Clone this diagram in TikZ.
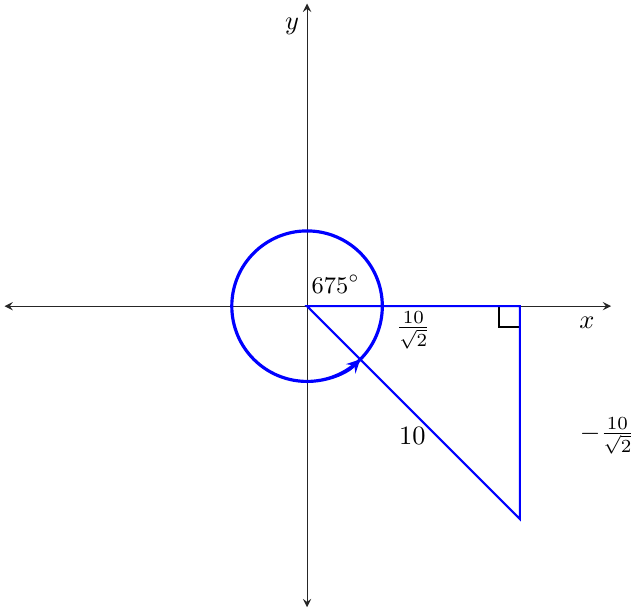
\documentclass[tikz,border=0pt]{standalone}
\usetikzlibrary{arrows,calc}
\begin{document}
\begin{tikzpicture}[
    x=0.4cm, y=0.4cm,
    axis/.style={<->, >=stealth, thin, black!85},
    side/.style={blue, thick},
    turn/.style={blue, very thick, ->, >=stealth},
    lbl/.style={inner sep=1pt}
]
    \useasboundingbox (-10.2,-10.03) rectangle (10.86,10.17);
    % Axes
    \coordinate (xl) at (-10.05,0);
    \coordinate (xr) at (10.1,0);
    \coordinate (yb) at (0,-10);
    \coordinate (yt) at (0,10.05);
    \draw[axis] (xl) -- (xr);
    \draw[axis] (yb) -- (yt);
    \node[lbl] (xlab) at (9.3,-0.55) {$x$};
    \node[lbl] (ylab) at (-0.5,9.3) {$y$};

    % Triangle
    \coordinate (O) at (0,0);
    \coordinate (A) at ({10/sqrt(2)},0);
    \coordinate (B) at ({10/sqrt(2)},{-10/sqrt(2)});
    \draw[semithick] ($(A)+(-0.7,0)$) -- ++(0,-0.7) -- ++(0.7,0);
    \draw[side] (O) -- (A) -- (B) -- cycle;

    % Rotation
    \draw[turn] (2.5,0) arc[start angle=0, end angle=675, radius=2.5];

    % Labels
    \node[lbl] (ang) at (0.95,0.73) {\small $675^\circ$};
    \node[lbl] (adj) at (3.53,-0.8) {$\frac{10}{\sqrt{2}}$};
    \node[lbl] (hyp) at (3.5,-4.32) {$10$};
    \node[lbl] (opp) at (9.97,-4.32) {$-\frac{10}{\sqrt{2}}$};
\end{tikzpicture}
\end{document}
